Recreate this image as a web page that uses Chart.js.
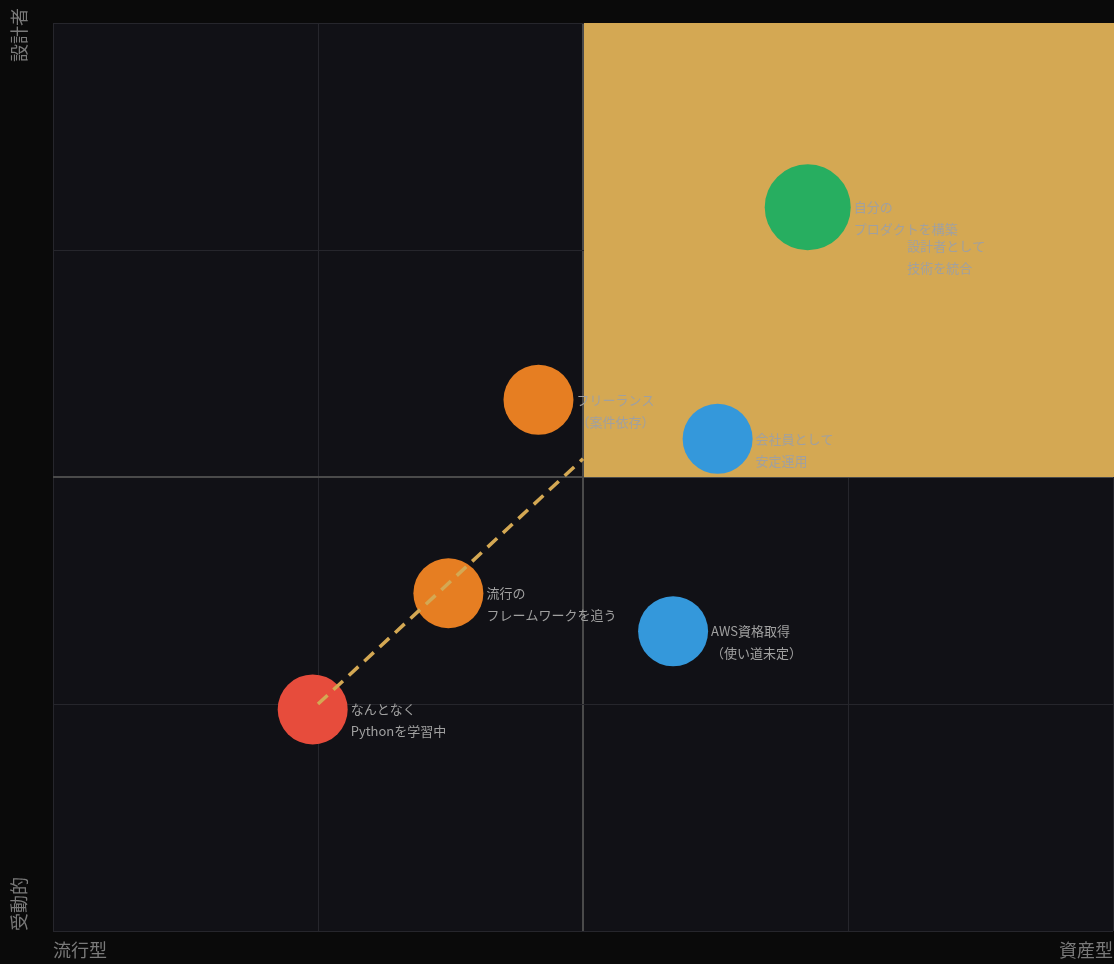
<!DOCTYPE html>
<html>
<head>
<meta charset="utf-8">
<script src="https://cdn.jsdelivr.net/npm/chart.js@4"></script>
<style>
  html, body { margin: 0; padding: 0; background: #0a0a0a; overflow: hidden; }
  #wrap { position: relative; width: 1114px; height: 964px; }
  canvas { display: block; }
</style>
</head>
<body>
<div id="wrap"><canvas id="mapChart"></canvas></div>
<script>
// quadrant map data
const pointLabels = [
    ['なんとなく', 'Pythonを学習中'],
    ['流行の', 'フレームワークを追う'],
    ['フリーランス', '（案件依存）'],
    ['会社員として', '安定運用'],
    ['AWS資格取得', '（使い道未定）'],
    ['自分の', 'プロダクトを構築'],
    ['設計者として', '技術を統合']
];
const xValues = [24.5, 37.3, 45.8, 62.7, 58.5, 71.2, 80.3];
const yValues = [24.4, 37.2, 58.5, 54.2, 33.0, 79.7, 75.4];
const bubbleSize = [35, 35, 35, 35, 35, 43, 0];
const pointColors = ['#e74c3c', '#e67e22', '#e67e22', '#3498db', '#3498db', '#27ae60', 'rgba(0,0,0,0)'];

const pathX = [25, 50];
const pathY = [25, 52];

const xAxisLabels = ['流行型', '資産型'];
const yAxisLabels = ['受動的', '設計者'];

const fontFamily = '"Noto Sans CJK JP", "Noto Sans", sans-serif';

const quadrantPlugin = {
    id: 'quadrant',
    beforeDraw(chart) {
        const { ctx, chartArea } = chart;
        ctx.save();
        ctx.fillStyle = '#111116';
        ctx.fillRect(chartArea.left, chartArea.top, chartArea.right - chartArea.left, chartArea.bottom - chartArea.top);
        ctx.restore();
    },
    beforeDatasetsDraw(chart) {
        const { ctx, chartArea, scales } = chart;
        // 目標ゾーン
        const x0 = scales.x.getPixelForValue(50);
        const y0 = scales.y.getPixelForValue(50);
        ctx.save();
        ctx.fillStyle = '#d4a853';
        ctx.fillRect(x0 + 1, chartArea.top, chartArea.right - x0 + 1, y0 - chartArea.top);
        ctx.restore();
    },
    afterDraw(chart) {
        const { ctx, chartArea } = chart;
        ctx.save();
        ctx.fillStyle = '#7a7a7a';
        ctx.font = '18px ' + fontFamily;
        ctx.textBaseline = 'middle';
        ctx.textAlign = 'left';
        ctx.save();
        ctx.translate(19, 62);
        ctx.rotate(-Math.PI / 2);
        ctx.fillText(yAxisLabels[1], 0, 0);
        ctx.restore();
        ctx.save();
        ctx.translate(19, chartArea.bottom);
        ctx.rotate(-Math.PI / 2);
        ctx.fillText(yAxisLabels[0], 0, 0);
        ctx.restore();
        ctx.restore();
    }
};

const bubbleLabelPlugin = {
    id: 'bubbleLabels',
    afterDatasetsDraw(chart) {
        const { ctx } = chart;
        const meta = chart.getDatasetMeta(1);
        ctx.save();
        ctx.fillStyle = '#a0a0a0';
        ctx.font = '13px ' + fontFamily;
        ctx.textBaseline = 'middle';
        ctx.textAlign = 'left';
        meta.data.forEach((el, i) => {
            const lx = el.x + bubbleSize[i] + 3;
            pointLabels[i].forEach((line, j) => {
                ctx.fillText(line, lx, el.y + j * 22);
            });
        });
        ctx.restore();
    }
};

function initializeChart() {
    const ctx = document.getElementById('mapChart').getContext('2d');

    new Chart(ctx, {
        type: 'bubble',
        data: {
            datasets: [{
                type: 'line',
                data: pathX.map((x, i) => ({ x: x, y: pathY[i] })),
                borderColor: '#d4a853',
                borderWidth: 3.5,
                borderDash: [13, 8],
                pointRadius: 0,
                fill: false,
            }, {
                data: xValues.map((x, i) => ({ x: x, y: yValues[i], r: bubbleSize[i] })),
                backgroundColor: pointColors,
                borderWidth: 0,
                hoverRadius: 0,
            }]
        },
        options: {
            responsive: true,
            maintainAspectRatio: false,
            animation: false,
            events: [],
            layout: { autoPadding: false, padding: { top: 23, left: 0, right: 1, bottom: 0 } },
            plugins: {
                legend: { display: false },
                tooltip: { enabled: false }
            },
            scales: {
                x: {
                    type: 'linear',
                    min: 0,
                    max: 100,
                    border: { display: false },
                    afterFit: (scale) => {
                        scale.height = 33;
                        scale.paddingLeft = 0;
                        scale.paddingRight = 0;
                    },
                    grid: {
                        drawTicks: false,
                        color: (c) => c.tick && c.tick.value === 50 ? '#4a4a4a' : '#26262c',
                        lineWidth: (c) => c.tick && c.tick.value === 50 ? 2 : 1
                    },
                    ticks: {
                        stepSize: 25,
                        align: 'inner',
                        maxRotation: 0,
                        padding: 8,
                        color: '#7a7a7a',
                        font: { size: 18, family: fontFamily },
                        callback: (v) => v === 0 ? xAxisLabels[0] : (v === 100 ? xAxisLabels[1] : '')
                    }
                },
                y: {
                    type: 'linear',
                    min: 0,
                    max: 100,
                    border: { display: false },
                    afterFit: (scale) => { scale.width = 53; },
                    grid: {
                        drawTicks: false,
                        color: (c) => c.tick && c.tick.value === 50 ? '#4a4a4a' : '#26262c',
                        lineWidth: (c) => c.tick && c.tick.value === 50 ? 2 : 1
                    },
                    ticks: {
                        stepSize: 25,
                        display: false
                    }
                }
            }
        },
        plugins: [quadrantPlugin, bubbleLabelPlugin]
    });
}

document.addEventListener('DOMContentLoaded', initializeChart);
</script>
</body>
</html>
